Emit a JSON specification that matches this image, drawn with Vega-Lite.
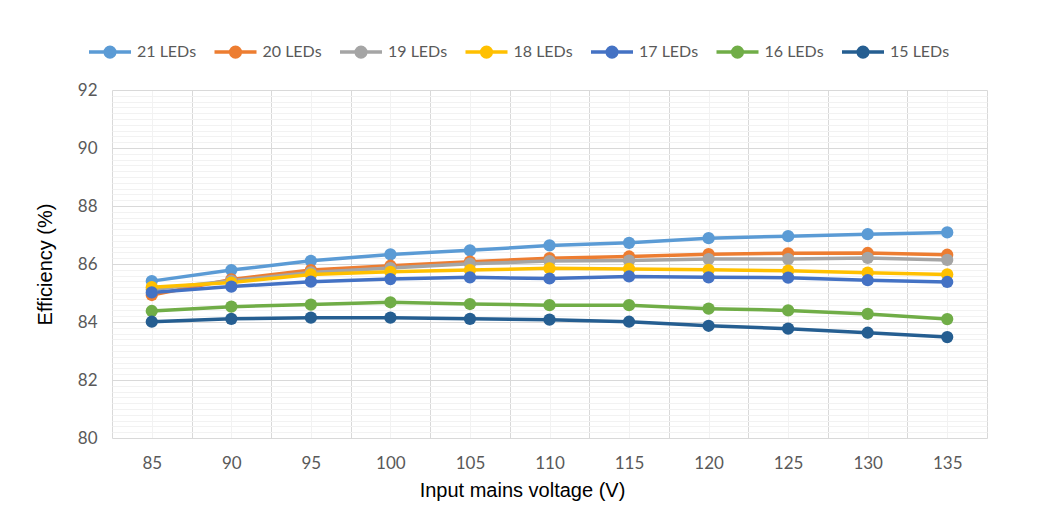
{
  "$schema": "https://vega.github.io/schema/vega-lite/v6.json",
  "width": 875,
  "height": 348,
  "autosize": {"type": "none"},
  "padding": {"left": 112, "top": 90, "right": 73, "bottom": 81},
  "background": "white",
  "config": {
    "view": {"stroke": null},
    "axis": {"labelFont": "Lato", "labelFontSize": 17, "labelColor": "#595959", "titleFont": "Liberation Sans", "titleFontSize": 20, "titleFontWeight": "normal", "titleColor": "#000000", "domain": false, "ticks": false, "tickSize": 0, "labelOverlap": false, "labelFlush": false, "labelBound": false}
  },
  "data": {"values": [
    {"V":85,"s":"21 LEDs","e":85.41},{"V":90,"s":"21 LEDs","e":85.79},{"V":95,"s":"21 LEDs","e":86.11},{"V":100,"s":"21 LEDs","e":86.33},{"V":105,"s":"21 LEDs","e":86.47},{"V":110,"s":"21 LEDs","e":86.64},{"V":115,"s":"21 LEDs","e":86.73},{"V":120,"s":"21 LEDs","e":86.89},{"V":125,"s":"21 LEDs","e":86.96},{"V":130,"s":"21 LEDs","e":87.03},{"V":135,"s":"21 LEDs","e":87.09},
    {"V":85,"s":"20 LEDs","e":84.93},{"V":90,"s":"20 LEDs","e":85.47},{"V":95,"s":"20 LEDs","e":85.79},{"V":100,"s":"20 LEDs","e":85.94},{"V":105,"s":"20 LEDs","e":86.08},{"V":110,"s":"20 LEDs","e":86.20},{"V":115,"s":"20 LEDs","e":86.26},{"V":120,"s":"20 LEDs","e":86.34},{"V":125,"s":"20 LEDs","e":86.37},{"V":130,"s":"20 LEDs","e":86.38},{"V":135,"s":"20 LEDs","e":86.32},
    {"V":85,"s":"19 LEDs","e":85.12},{"V":90,"s":"19 LEDs","e":85.42},{"V":95,"s":"19 LEDs","e":85.71},{"V":100,"s":"19 LEDs","e":85.86},{"V":105,"s":"19 LEDs","e":86.01},{"V":110,"s":"19 LEDs","e":86.10},{"V":115,"s":"19 LEDs","e":86.12},{"V":120,"s":"19 LEDs","e":86.17},{"V":125,"s":"19 LEDs","e":86.17},{"V":130,"s":"19 LEDs","e":86.21},{"V":135,"s":"19 LEDs","e":86.14},
    {"V":85,"s":"18 LEDs","e":85.20},{"V":90,"s":"18 LEDs","e":85.36},{"V":95,"s":"18 LEDs","e":85.64},{"V":100,"s":"18 LEDs","e":85.73},{"V":105,"s":"18 LEDs","e":85.79},{"V":110,"s":"18 LEDs","e":85.85},{"V":115,"s":"18 LEDs","e":85.83},{"V":120,"s":"18 LEDs","e":85.80},{"V":125,"s":"18 LEDs","e":85.77},{"V":130,"s":"18 LEDs","e":85.70},{"V":135,"s":"18 LEDs","e":85.64},
    {"V":85,"s":"17 LEDs","e":85.02},{"V":90,"s":"17 LEDs","e":85.22},{"V":95,"s":"17 LEDs","e":85.39},{"V":100,"s":"17 LEDs","e":85.48},{"V":105,"s":"17 LEDs","e":85.54},{"V":110,"s":"17 LEDs","e":85.50},{"V":115,"s":"17 LEDs","e":85.57},{"V":120,"s":"17 LEDs","e":85.54},{"V":125,"s":"17 LEDs","e":85.53},{"V":130,"s":"17 LEDs","e":85.44},{"V":135,"s":"17 LEDs","e":85.38},
    {"V":85,"s":"16 LEDs","e":84.38},{"V":90,"s":"16 LEDs","e":84.53},{"V":95,"s":"16 LEDs","e":84.60},{"V":100,"s":"16 LEDs","e":84.68},{"V":105,"s":"16 LEDs","e":84.62},{"V":110,"s":"16 LEDs","e":84.58},{"V":115,"s":"16 LEDs","e":84.58},{"V":120,"s":"16 LEDs","e":84.46},{"V":125,"s":"16 LEDs","e":84.40},{"V":130,"s":"16 LEDs","e":84.28},{"V":135,"s":"16 LEDs","e":84.10},
    {"V":85,"s":"15 LEDs","e":84.01},{"V":90,"s":"15 LEDs","e":84.11},{"V":95,"s":"15 LEDs","e":84.15},{"V":100,"s":"15 LEDs","e":84.15},{"V":105,"s":"15 LEDs","e":84.11},{"V":110,"s":"15 LEDs","e":84.08},{"V":115,"s":"15 LEDs","e":84.01},{"V":120,"s":"15 LEDs","e":83.87},{"V":125,"s":"15 LEDs","e":83.77},{"V":130,"s":"15 LEDs","e":83.63},{"V":135,"s":"15 LEDs","e":83.48}
  ]},
  "mark": {"type": "line", "strokeWidth": 3.5, "point": {"filled": true, "size": 150, "opacity": 1}},
  "encoding": {
    "x": {
      "field": "V", "type": "quantitative", "title": "Input mains voltage (V)",
      "scale": {"domain": [82.5, 137.5], "nice": false, "zero": false},
      "axis": {
        "values": [82.5,85,87.5,90,92.5,95,97.5,100,102.5,105,107.5,110,112.5,115,117.5,120,122.5,125,127.5,130,132.5,135,137.5],
        "labelExpr": "datum.value % 5 === 0 ? datum.label : ''",
        "grid": true,
        "gridColor": {"condition": {"test": "datum.value % 5 === 0", "value": "#F2F2F2"}, "value": "#D9D9D9"},
        "labelPadding": 17, "titlePadding": 9, "titleX": 410
      }
    },
    "y": {
      "field": "e", "type": "quantitative", "title": "Efficiency (%)",
      "scale": {"domain": [80, 92], "nice": false, "zero": false},
      "axis": {
        "values": [80,80.2,80.4,80.6,80.8,81,81.2,81.4,81.6,81.8,82,82.2,82.4,82.6,82.8,83,83.2,83.4,83.6,83.8,84,84.2,84.4,84.6,84.8,85,85.2,85.4,85.6,85.8,86,86.2,86.4,86.6,86.8,87,87.2,87.4,87.6,87.8,88,88.2,88.4,88.6,88.8,89,89.2,89.4,89.6,89.8,90,90.2,90.4,90.6,90.8,91,91.2,91.4,91.6,91.8,92],
        "labelExpr": "abs(datum.value - round(datum.value / 2) * 2) < 0.01 ? toString(round(datum.value)) : ''",
        "grid": true,
        "gridColor": {"condition": {"test": "abs(datum.value - round(datum.value / 2) * 2) < 0.01", "value": "#D9D9D9"}, "value": "#F2F2F2"},
        "labelPadding": 15, "titlePadding": 22
      }
    },
    "color": {
      "field": "s", "type": "nominal",
      "scale": {"domain": ["21 LEDs","20 LEDs","19 LEDs","18 LEDs","17 LEDs","16 LEDs","15 LEDs"], "range": ["#5B9BD5","#ED7D31","#A5A5A5","#FFC000","#4472C4","#70AD47","#255E91"]},
      "legend": {
        "title": null, "orient": "none", "direction": "horizontal", "columns": 7,
        "legendX": -25, "legendY": -61,
        "symbolType": "M-1,0H1M0.23,0A0.23,0.23,0,1,1,-0.23,0A0.23,0.23,0,1,1,0.23,0Z",
        "symbolSize": 1764, "symbolStrokeWidth": 3.5,
        "labelFont": "Lato", "labelFontSize": 16, "labelColor": "#595959",
        "labelOffset": 4, "columnPadding": 10.5,
        "encode": {"symbols": {"update": {"fill": {"scale": "color", "field": "value"}, "opacity": {"value": 1}}}}
      }
    },
    "order": {"field": "V", "type": "quantitative"}
  }
}
